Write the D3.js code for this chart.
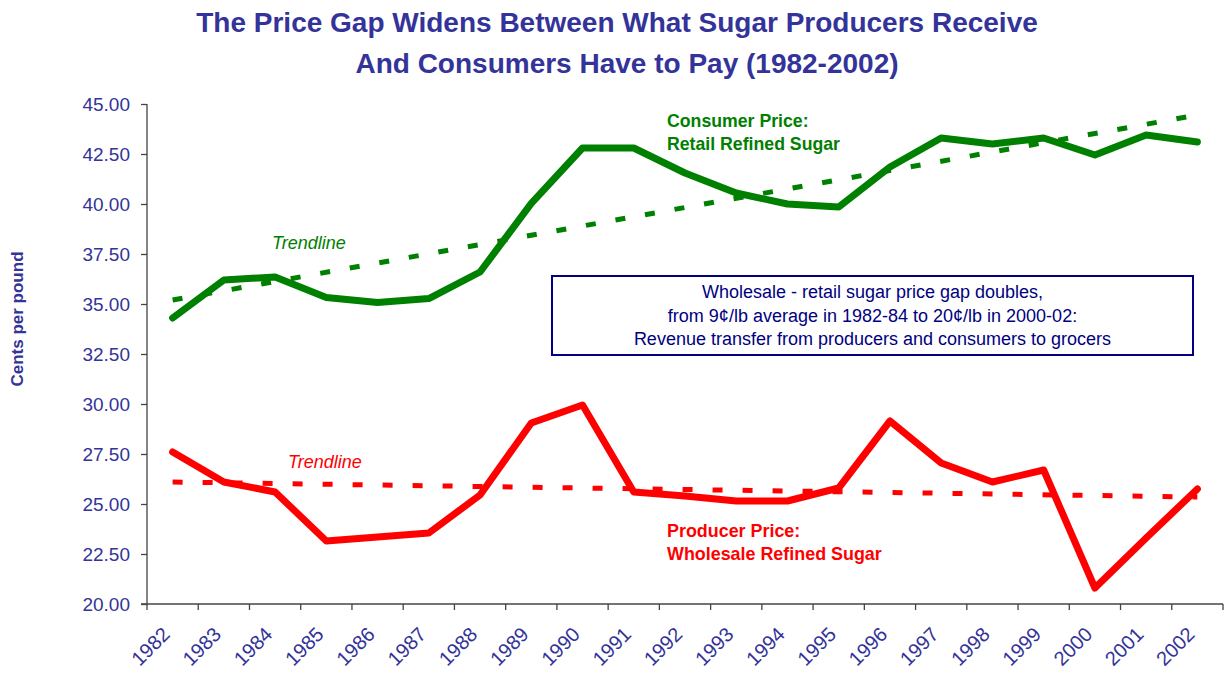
<!DOCTYPE html>
<html>
<head>
<meta charset="utf-8">
<script src="https://cdn.jsdelivr.net/npm/d3@7"></script>
<style>
  html, body { margin: 0; padding: 0; background: #fff; }
  svg { display: block; font-family: "Liberation Sans", Arial, sans-serif; }
</style>
</head>
<body>
<svg id="chart" width="1228" height="675"></svg>
<script>
// ---- data ----
const years = ["1982","1983","1984","1985","1986","1987","1988","1989","1990","1991","1992",
               "1993","1994","1995","1996","1997","1998","1999","2000","2001","2002"];
const consumerPrice = [34.30, 36.20, 36.35, 35.33, 35.08, 35.27, 36.60, 40.03, 42.80, 42.80, 41.55,
                       40.55, 40.00, 39.85, 41.85, 43.30, 43.00, 43.30, 42.45, 43.45, 43.10];
const producerPrice = [27.60, 26.10, 25.60, 23.15, 23.35, 23.55, 25.45, 29.05, 29.95, 25.60, 25.40,
                       25.15, 25.15, 25.80, 29.15, 27.05, 26.10, 26.70, 20.80, 23.30, 25.75];
// trendline end values (1982, 2002)
const consumerTrend = [35.20, 44.45];
const producerTrend = [26.10, 25.35];
const yTicks = [20, 22.5, 25, 27.5, 30, 32.5, 35, 37.5, 40, 42.5, 45];
const titleLines = ["The Price Gap Widens Between What Sugar Producers Receive",
                    "And Consumers Have to Pay (1982-2002)"];
const boxLines = ["Wholesale - retail sugar price gap doubles,",
                  "from 9¢/lb average in 1982-84 to 20¢/lb in 2000-02:",
                  "Revenue transfer from producers and consumers to grocers"];

// ---- layout ----
const svg = d3.select("#chart");
const L = 147, R = 1223, T = 104, B = 604;
const navy = "#333399", green = "#008000", red = "#FF0000";

const x = d3.scaleBand().domain(years).range([L, R]).paddingInner(0).paddingOuter(0);
const xc = d => x(d) + x.bandwidth() / 2;
const y = d3.scaleLinear().domain([20, 45]).range([B, T]);

// title
svg.append("g").selectAll("text").data(titleLines).join("text")
  .attr("x", (d, i) => i === 0 ? 617 : 627).attr("y", (d, i) => 32 + i * 41)
  .attr("text-anchor", "middle")
  .attr("font-size", 28).attr("font-weight", "bold").attr("fill", navy)
  .text(d => d);

// y axis
const yAxis = svg.append("g").attr("transform", `translate(${L},0)`)
  .call(d3.axisLeft(y).tickValues(yTicks).tickFormat(d3.format(".2f")).tickSize(6).tickPadding(11));
yAxis.select(".domain").attr("stroke", "#444").attr("stroke-width", 1.3).attr("d", `M0,${T}V${B}`);
yAxis.selectAll(".tick line").attr("stroke", "#444").attr("stroke-width", 1.3);
yAxis.selectAll(".tick text").attr("fill", navy).attr("font-size", 19)
  .attr("font-family", "Liberation Sans, Arial, sans-serif");

// x axis with ticks at category boundaries
const xAxisG = svg.append("g").attr("transform", `translate(0,${B})`);
xAxisG.append("line").attr("x1", L - 6).attr("x2", R).attr("y1", 0).attr("y2", 0)
  .attr("stroke", "#444").attr("stroke-width", 1.3);
const bounds = years.map(d => x(d)).concat([R]);
xAxisG.selectAll("line.tk").data(bounds).join("line").attr("class", "tk")
  .attr("x1", d => d).attr("x2", d => d).attr("y1", 0).attr("y2", 6)
  .attr("stroke", "#444").attr("stroke-width", 1.3);
xAxisG.selectAll("text").data(years).join("text")
  .attr("transform", d => `translate(${xc(d) - 12},${21}) rotate(-45)`)
  .attr("text-anchor", "end").attr("dy", "0.75em")
  .attr("font-size", 20).attr("fill", navy)
  .text(d => d);

// y axis title
svg.append("text")
  .attr("transform", "translate(23,319) rotate(-90)")
  .attr("text-anchor", "middle")
  .attr("font-size", 17).attr("font-weight", "bold").attr("fill", navy)
  .text("Cents per pound");

// trendlines
const line = d3.line().x(d => d[0]).y(d => y(d[1]));
function trend(vals, color) {
  svg.append("path")
    .datum([[xc(years[0]), vals[0]], [xc(years[years.length - 1]), vals[1]]])
    .attr("d", line)
    .attr("fill", "none").attr("stroke", color).attr("stroke-width", 5)
    .attr("stroke-dasharray", "10,20");
}
trend(consumerTrend, green);
trend(producerTrend, red);

// series
const sLine = d3.line().x((d, i) => xc(years[i])).y(d => y(d));
svg.append("path").datum(consumerPrice).attr("d", sLine)
  .attr("fill", "none").attr("stroke", green).attr("stroke-width", 7)
  .attr("stroke-linejoin", "round").attr("stroke-linecap", "round");
svg.append("path").datum(producerPrice).attr("d", sLine)
  .attr("fill", "none").attr("stroke", red).attr("stroke-width", 7)
  .attr("stroke-linejoin", "round").attr("stroke-linecap", "round");

// labels
function label(lines, xPos, yPos, color, opts) {
  svg.append("g").selectAll("text").data(lines).join("text")
    .attr("x", xPos).attr("y", (d, i) => yPos + i * 23)
    .attr("font-size", opts.size).attr("fill", color)
    .attr("font-weight", opts.bold ? "bold" : "normal")
    .attr("font-style", opts.italic ? "italic" : "normal")
    .text(d => d);
}
label(["Consumer Price:", "Retail Refined Sugar"], 667, 127, green, {bold: true, size: 17.7});
label(["Producer Price:", "Wholesale Refined Sugar"], 667, 537, red, {bold: true, size: 17.9});
label(["Trendline"], 272, 249, green, {italic: true, size: 18});
label(["Trendline"], 288, 468, red, {italic: true, size: 18});

// annotation box
svg.append("rect").attr("x", 552).attr("y", 276).attr("width", 641).attr("height", 79)
  .attr("fill", "#fff").attr("stroke", "#000080").attr("stroke-width", 2);
svg.append("g").selectAll("text").data(boxLines).join("text")
  .attr("x", 872.5).attr("y", (d, i) => 298 + i * 23.5)
  .attr("text-anchor", "middle").attr("font-size", 18).attr("fill", "#000080")
  .text(d => d);
</script>
</body>
</html>
